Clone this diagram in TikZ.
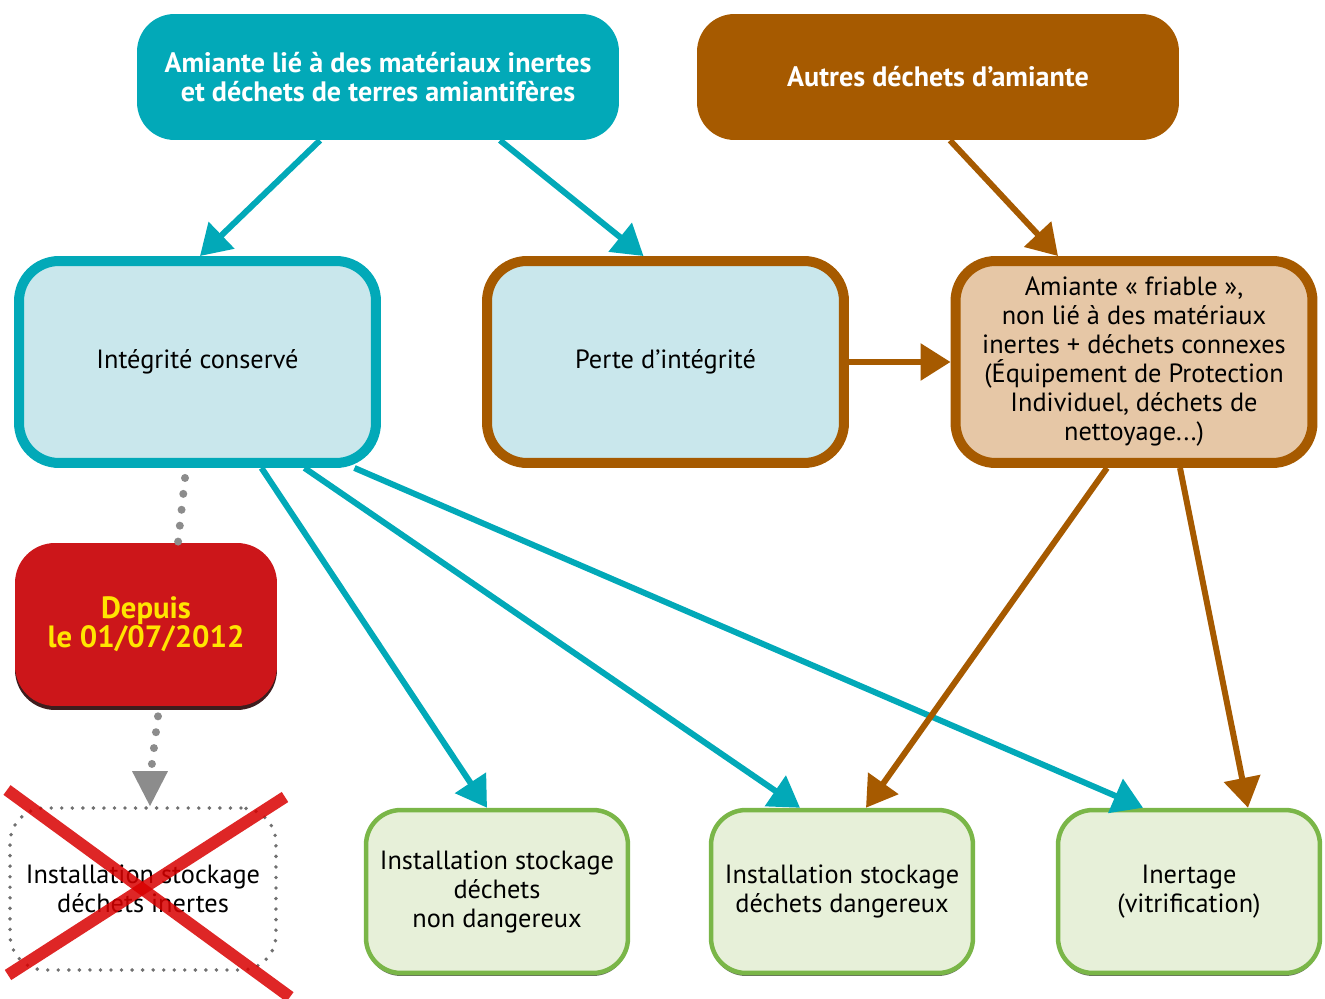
\documentclass[tikz,border=0pt]{standalone}
\usepackage{fontspec}
\setmainfont{PT Sans}
\usepackage{xcolor}
\usetikzlibrary{arrows.meta,shadows}

\definecolor{teal}{HTML}{02A9B8}
\definecolor{brun}{HTML}{A65A00}
\definecolor{bleuclair}{HTML}{C9E7EC}
\definecolor{beige}{HTML}{E6C7A6}
\definecolor{rouge}{HTML}{CC161A}
\definecolor{jaune}{HTML}{FFE500}
\definecolor{vertclair}{HTML}{E7F0D9}
\definecolor{vert}{HTML}{7AB648}
\definecolor{gris}{HTML}{8C8C8C}

\tikzset{
  titre/.style={rounded corners=0.75cm, minimum width=9.64cm, minimum height=2.52cm,
    text=white, align=center, font=\fontsize{16}{16.5}\selectfont\bfseries},
  etat/.style={rounded corners=0.8cm, line width=0.2cm, minimum width=7.14cm,
    minimum height=4.04cm, align=center, font=\fontsize{15}{16.5}\selectfont},
  filiere/.style={rounded corners=0.7cm, line width=0.09cm, draw=vert, fill=vertclair,
    minimum width=5.24cm, minimum height=3.26cm, align=center,
    font=\fontsize{15}{16.5}\selectfont,
    drop shadow={shadow xshift=0cm, shadow yshift=-0.06cm, fill=black!70!vert, opacity=.7}},
  fleche/.style={line width=0.12cm, -{Triangle[length=0.6cm, width=0.72cm]}},
  pointille/.style={gris, line width=0.16cm, line cap=round, dash pattern=on 0pt off 0.32cm},
}

\begin{document}
\begin{tikzpicture}[x=0.02cm, y=-0.02cm]
\useasboundingbox (0,0) rectangle (1325,999);

% boites du haut
\node[titre, fill=teal] (lie) at (378,77)
  {Amiante lié à des matériaux inertes\\et déchets de terres amiantifères};
\node[titre, fill=brun] (autres) at (938,77) {Autres déchets d’amiante};

% etat de l'amiante
\node[etat, draw=teal, fill=bleuclair] (conserve) at (197.5,362) {Intégrité conservé};
\node[etat, draw=brun, fill=bleuclair] (perte) at (665.5,362) {Perte d’intégrité};
\node[etat, draw=brun, fill=beige] (friable) at (1134,362)
  {Amiante « friable »,\\non lié à des matériaux\\inertes + déchets connexes\\(Équipement de Protection\\Individuel, déchets de\\nettoyage...)};

% date
\node[rounded corners=0.8cm, fill=rouge, minimum width=5.24cm, minimum height=3.26cm,
  text=jaune, align=center, font=\fontsize{17.5}{16.5}\selectfont\bfseries,
  drop shadow={shadow xshift=0cm, shadow yshift=-0.08cm, fill=black!80!rouge, opacity=.9}]
  (depuis) at (146,624.5) {Depuis\\le 01/07/2012};

% filieres
\node[rounded corners=0.7cm, fill=white, draw=gris!80!black, line width=2.2pt, line cap=round,
  dash pattern=on 0pt off 6pt, minimum width=5.32cm, minimum height=3.24cm,
  align=center, font=\fontsize{15}{16.5}\selectfont]
  (isdi) at (143,889) {Installation stockage\\déchets inertes};
\node[filiere] (isdnd) at (497,891.5) {Installation stockage\\déchets\\non dangereux};
\node[filiere] (isdd) at (842,891.5) {Installation stockage\\déchets dangereux};
\node[filiere] (inertage) at (1189,891.5) {Inertage\\(vitrification)};

% fleches
\draw[fleche, teal] ([xshift=-1.16cm]lie.south) -- ([xshift=0.05cm]conserve.north);
\draw[fleche, teal] ([xshift=2.44cm]lie.south) -- ([xshift=-0.44cm]perte.north);
\draw[fleche, brun] ([xshift=0.24cm]autres.south) -- ([xshift=-1.52cm]friable.north);
\draw[fleche, brun] (perte.east) -- (friable.west);
\draw[fleche, teal] ([xshift=1.28cm]conserve.south) -- ([xshift=-0.2cm]isdnd.north);
\draw[fleche, teal] ([xshift=2.14cm]conserve.south) -- ([xshift=-0.84cm]isdd.north);
\draw[fleche, teal] ([xshift=3.14cm]conserve.south) -- ([xshift=-0.92cm]inertage.north);
\draw[fleche, brun] ([xshift=-0.54cm]friable.south) -- ([xshift=0.48cm]isdd.north);
\draw[fleche, brun] ([xshift=0.92cm]friable.south) -- ([xshift=1.18cm]inertage.north);

% pointilles
\draw[pointille] ([xshift=-0.25cm,yshift=-0.2cm]conserve.south) -- ([xshift=0.64cm]depuis.north);
\draw[pointille] ([xshift=0.24cm,yshift=-0.2cm]depuis.south) -- ([xshift=0.16cm,yshift=0.7cm]isdi.north);
\fill[gris] ([xshift=0.14cm]isdi.north) -- ++(-0.36cm,0.7cm) -- ++(0.72cm,0) -- cycle;

% croix
\draw[red!85!black, opacity=.85, line width=0.24cm] (7,790) -- (290,997);
\draw[red!85!black, opacity=.85, line width=0.24cm] (285,797) -- (8,975);
\end{tikzpicture}
\end{document}
